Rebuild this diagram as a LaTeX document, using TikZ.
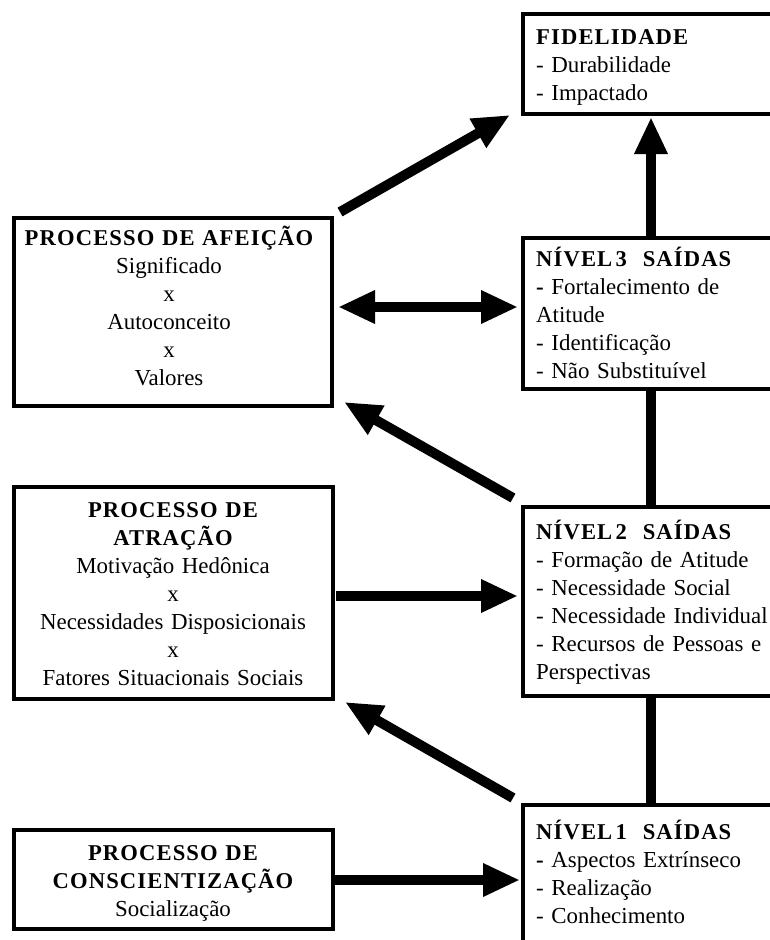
\documentclass[tikz,border=0pt]{standalone}
\usepackage{fontspec}
\setmainfont{Liberation Serif}
\newfontfamily\ttlfont[LetterSpace=5]{Liberation Serif}
\newcommand\ttl[1]{{\ttlfont\bfseries\fontsize{22.6pt}{28pt}\selectfont #1}}
\usetikzlibrary{arrows.meta,calc}
\begin{document}
\begin{tikzpicture}[x=1pt,y=-1pt,
  box/.style={draw,line width=3.5pt,rectangle,inner sep=0pt,outer sep=0pt,anchor=north west},
  txt/.style={inner sep=0pt,font=\fontsize{22.9pt}{28pt}\selectfont},
  ltxt/.style={txt,anchor=base west,text width=270pt,align=left},
  ctxt/.style={txt,anchor=base,text width=316pt,align=center},
  arr/.style={line width=10pt,-{Triangle[length=37pt,width=31pt]}},
  darr/.style={line width=10pt,{Triangle[length=37pt,width=31pt]}-{Triangle[length=37pt,width=31pt]}},
  lnk/.style={line width=10pt}]
\clip (0,0) rectangle (770,940);
% boxes
\node[box,minimum width=277pt,minimum height=100pt] (fid) at (523,14) {};
\node[box,minimum width=277pt,minimum height=151pt] (lv3) at (523,238) {};
\node[box,minimum width=277pt,minimum height=189pt] (lv2) at (523,507) {};
\node[box,minimum width=277pt,minimum height=155pt] (lv1) at (523,805) {};
\node[box,minimum width=318pt,minimum height=188pt] (afe) at (14,218) {};
\node[box,minimum width=319pt,minimum height=212pt] (atr) at (14,487) {};
\node[box,minimum width=319pt,minimum height=99pt] (con) at (14,830) {};
% texts
\node[ltxt] (tfid) at (536,44) {\ttl{FIDELIDADE}\\- Durabilidade\\- Impactado};
\node[ltxt] (tlv3) at (536,266) {\ttl{NÍVEL\hspace{0.15em}3\hspace{0.7em}SAÍDAS}\\\textbf{-} Fortalecimento de\\Atitude\\- Identificação\\- Não Substituível};
\node[ltxt] (tlv2) at (536,539) {\ttl{NÍVEL\hspace{0.15em}2\hspace{0.7em}SAÍDAS}\\- Formação de Atitude\\- Necessidade Social\\- Necessidade Individual\\- Recursos de Pessoas e\\Perspectivas};
\node[ltxt] (tlv1) at (536,839) {\ttl{NÍVEL\hspace{0.15em}1\hspace{0.7em}SAÍDAS}\\\textbf{-} Aspectos Extrínseco\\- Realização\\- Conhecimento};
\node[ctxt] (tafe) at (169,245) {\ttl{PROCESSO DE AFEIÇÃO}\\Significado\\x\\Autoconceito\\x\\Valores};
\node[ctxt] (tatr) at (173,517) {\ttl{PROCESSO DE}\\\ttl{ATRAÇÃO}\\Motivação Hedônica\\x\\Necessidades Disposicionais\\x\\Fatores Situacionais Sociais};
\node[ctxt] (tcon) at (173,860) {\ttl{PROCESSO DE}\\\ttl{CONSCIENTIZAÇÃO}\\Socialização};
% connectors
\draw[arr] ($(afe.north east)+(8,-6)$) -- ($(fid.south west)+(-13,1)$);
\draw[darr] ($(afe.east)+(6,-5)$) -- ($(lv3.west)+(-5,-6.5)$);
\draw[arr] ($(lv2.north west)+(-10,-9)$) -- ($(afe.south east)+(12,-4)$);
\draw[arr] ($(atr.east)+(3,3)$) -- ($(lv2.west)+(-5,-5.5)$);
\draw[arr] ($(lv1.north west)+(-10,-7)$) -- ($(atr.south east)+(12,3)$);
\draw[arr] ($(con.east)+(2,0.5)$) -- ($(lv1.north west)+(-3,75)$);
\draw[arr] ($(lv3.north west)+(128,0)$) -- ($(fid.south west)+(128,3)$);
\draw[lnk] ($(lv3.south west)+(128,0)$) -- ($(lv2.north west)+(128,0)$);
\draw[lnk] ($(lv2.south west)+(128,0)$) -- ($(lv1.north west)+(128,0)$);
\end{tikzpicture}
\end{document}
